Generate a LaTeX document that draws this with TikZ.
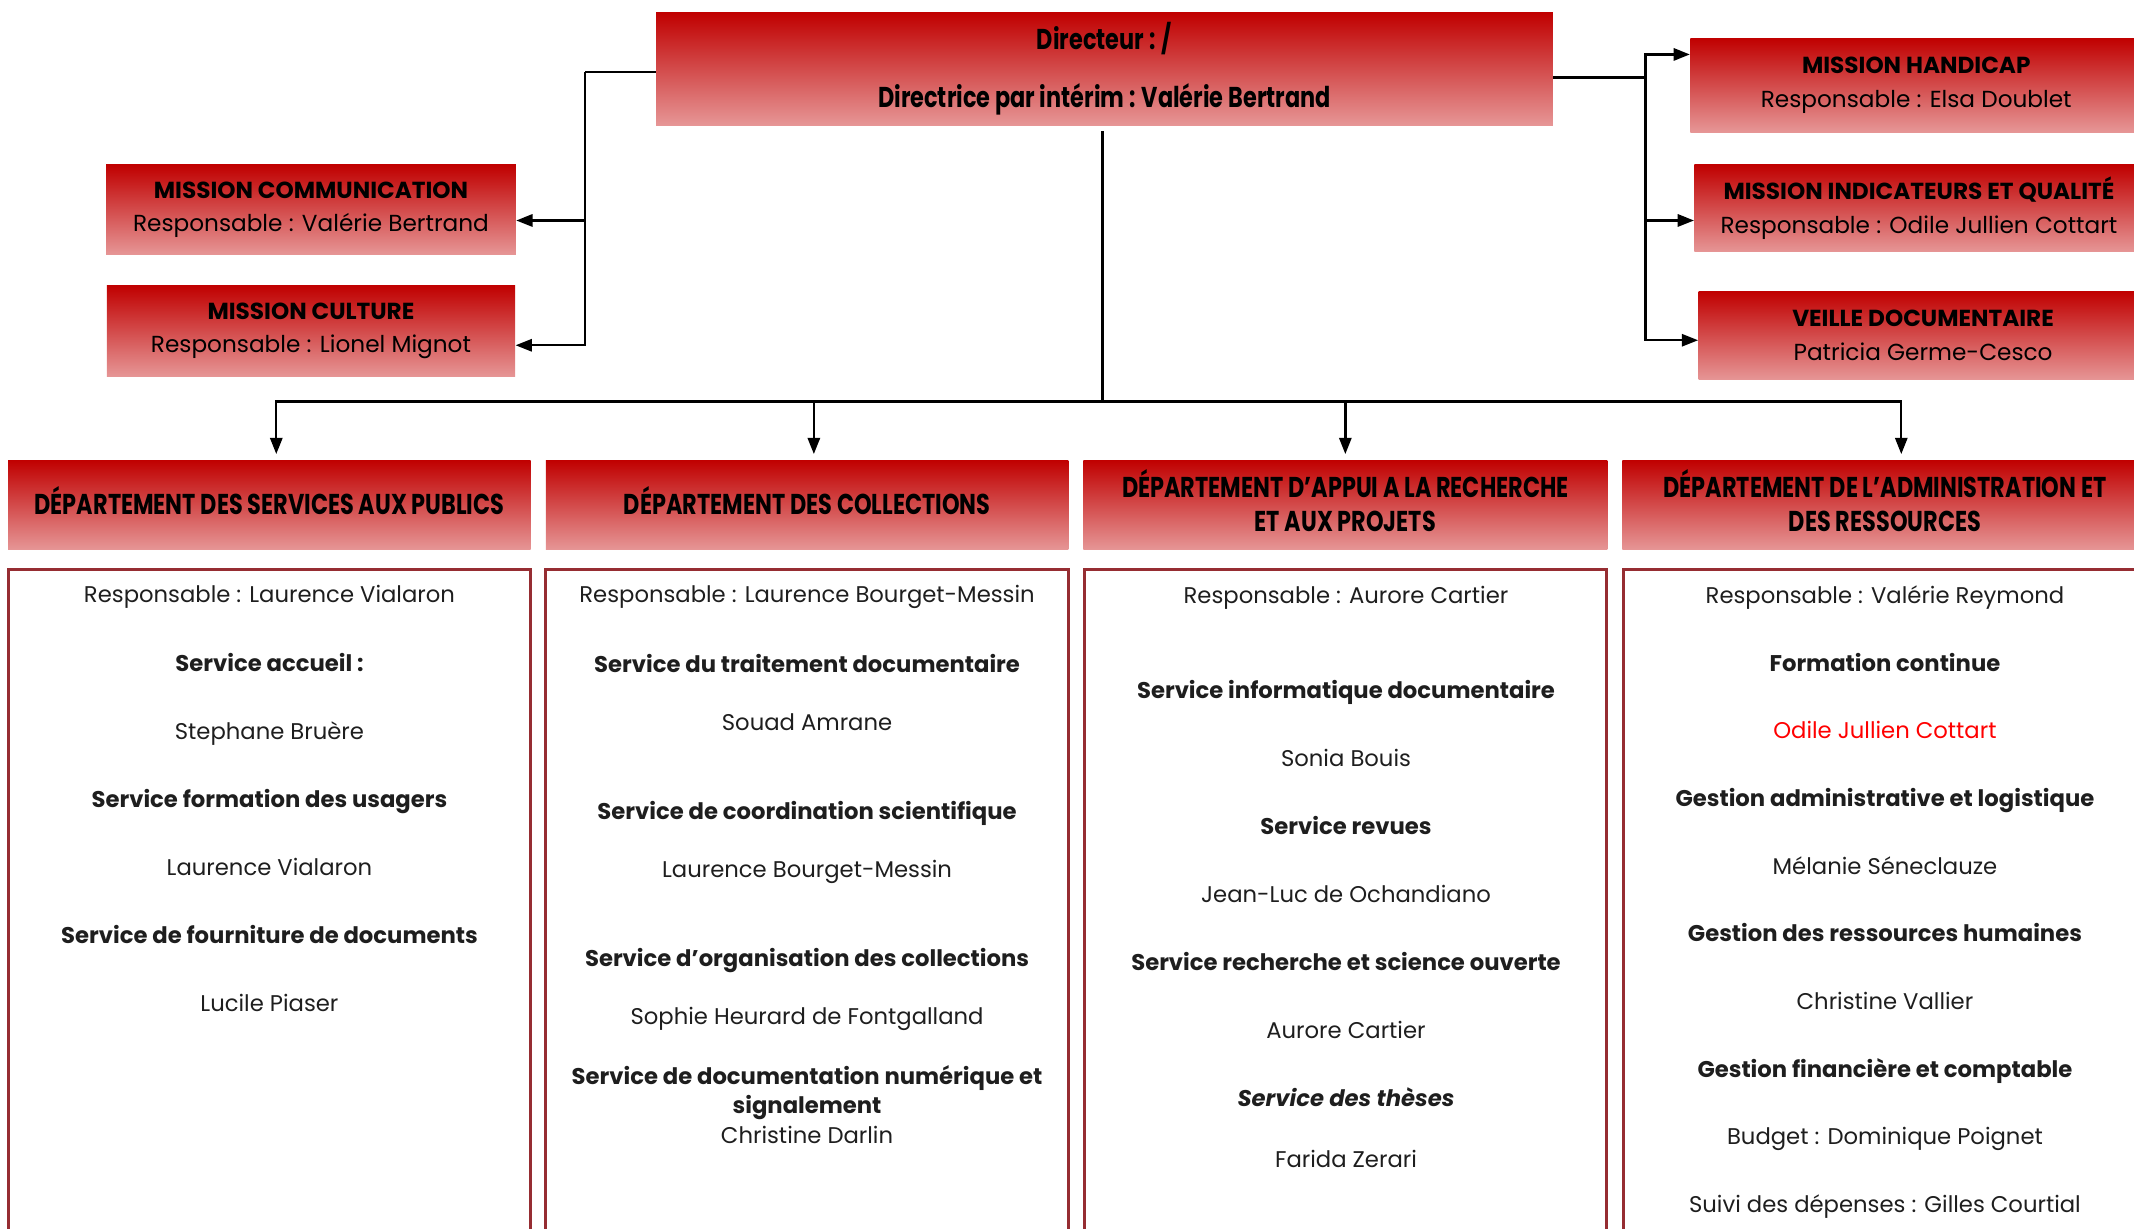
\documentclass[tikz,border=0pt]{standalone}
\usepackage{fontspec}
\setmainfont{Poppins}
\newfontfamily\condfont[FakeStretch=0.78]{Poppins}
\usetikzlibrary{positioning}
\usetikzlibrary{arrows.meta}

\definecolor{hdtop}{RGB}{192,0,0}
\definecolor{hdbot}{RGB}{230,150,150}
\definecolor{boxline}{RGB}{150,45,50}
\definecolor{txtgray}{RGB}{30,30,30}
\newcommand{\lowpad}{\rule[-0.12cm]{0pt}{0pt}}

\begin{document}
\begin{tikzpicture}[x=0.02cm,y=-0.02cm,
      head/.style={shade,top color=hdtop,bottom color=hdbot,inner sep=0pt,align=center},
      mission/.style={head,minimum width=6cm,minimum height=1.32cm,
        font=\fontsize{9.7}{14}\selectfont},
      dept/.style={head,minimum width=7.68cm,minimum height=1.32cm,
        font=\condfont\bfseries\fontsize{12}{14.2}\selectfont},
      staff/.style={draw=boxline,line width=1.2pt,minimum width=7.68cm,minimum height=10cm},
      list/.style={anchor=north,inner sep=0pt,align=center,text=txtgray},
      link/.style={line width=1pt},
      arr/.style={line width=1pt,-{Triangle[length=2.4mm,width=1.8mm]}},
      ]
      \useasboundingbox (0,0) rectangle (1568,903);
      \clip (0,0) rectangle (1568,903);

      \node[head,minimum width=13.18cm,minimum height=1.66cm,
        font=\condfont\bfseries\fontsize{12}{23.9}\selectfont] (dir) at (811.5,50.5)
        {Directeur : /\\Directrice par intérim : Valérie Bertrand};

      \node[mission,minimum width=6.02cm] (mcom) at (228.5,154)
        {\textbf{MISSION COMMUNICATION}\\Responsable : Valérie Bertrand};
      \node[mission,minimum height=1.34cm,below=0.44cm of mcom] (mcul)
        {\textbf{MISSION CULTURE}\\Responsable : Lionel Mignot};

      \node[mission,minimum width=6.64cm,minimum height=1.38cm] (mhand) at (1408,62.5)
        {\textbf{MISSION HANDICAP}\\Responsable : Elsa Doublet};
      \node[mission,minimum width=6.6cm,minimum height=1.28cm] (mqual) at (1410,153)
        {\textbf{MISSION INDICATEURS ET QUALITÉ}\\Responsable : Odile Jullien Cottart};
      \node[mission,minimum width=6.6cm,minimum height=1.3cm] (veille) at (1413,246.5)
        {\textbf{VEILLE DOCUMENTAIRE}\\Patricia Germe-Cesco};

      \node[dept] (dep1) at (198,371) {DÉPARTEMENT DES SERVICES AUX PUBLICS\lowpad};
      \node[dept] (dep2) at (593,371) {DÉPARTEMENT DES COLLECTIONS\lowpad};
      \node[dept,minimum width=7.7cm] (dep3) at (988.5,371)
        {DÉPARTEMENT D’APPUI A LA RECHERCHE\\ET AUX PROJETS\lowpad};
      \node[dept,minimum width=7.72cm] (dep4) at (1385,371)
        {DÉPARTEMENT DE L’ADMINISTRATION ET\\DES RESSOURCES\lowpad};

      \node[staff,below=0.26cm of dep1] (box1) {};
      \node[staff,below=0.26cm of dep2] (box2) {};
      \node[staff,below=0.26cm of dep3] (box3) {};
      \node[staff,below=0.26cm of dep4] (box4) {};

      \node[list,font=\fontsize{9.5}{28.45}\selectfont] (txt1) at (198,430)
        {Responsable : Laurence Vialaron\\
         \textbf{Service accueil :}\\
         Stephane Bruère\\
         \textbf{Service formation des usagers}\\
         Laurence Vialaron\\
         \textbf{Service de fourniture de documents}\\
         Lucile Piaser};
      \node[list,font=\fontsize{9.5}{12.23}\selectfont] (txt2) at (593,430)
        {Responsable : Laurence Bourget-Messin\\[0.59cm]
         \textbf{Service du traitement documentaire}\\[0.43cm]
         Souad Amrane\\[0.87cm]
         \textbf{Service de coordination scientifique}\\[0.43cm]
         Laurence Bourget-Messin\\[0.87cm]
         \textbf{Service d’organisation des collections}\\[0.43cm]
         Sophie Heurard de Fontgalland\\[0.45cm]
         \textbf{Service de documentation numérique et}\\
         \textbf{signalement}\\
         Christine Darlin};
      \node[list,font=\fontsize{9.5}{28.45}\selectfont] (txt3) at (989,430)
        {Responsable : Aurore Cartier\\[0.4cm]
         \textbf{Service informatique documentaire}\\
         Sonia Bouis\\
         \textbf{Service revues}\\
         Jean-Luc de Ochandiano\\
         \textbf{Service recherche et science ouverte}\\
         Aurore Cartier\\
         \textbf{\textit{Service des thèses}}\\[-0.1cm]
         Farida Zerari};
      \node[list,font=\fontsize{9.5}{28.3}\selectfont] (txt4) at (1385,430)
        {Responsable : Valérie Reymond\\
         \textbf{Formation continue}\\
         \textcolor{red}{Odile Jullien Cottart}\\
         \textbf{Gestion administrative et logistique}\\
         Mélanie Séneclauze\\
         \textbf{Gestion des ressources humaines}\\
         Christine Vallier\\
         \textbf{Gestion financière et comptable}\\
         Budget : Dominique Poignet\\
         Suivi des dépenses : Gilles Courtial};

      \coordinate (lj) at (430,53);
      \coordinate (rj) at (1209,57);
      \coordinate (bj) at (810,295);

      \draw[link] (dir.west |- lj) -- (lj);
      \draw[arr] (lj) |- ([yshift=-0.16cm]mcom.east);
      \draw[arr] (lj) |- ([yshift=-0.21cm]mcul.east);

      \draw[link] (dir.east |- rj) -- (rj);
      \draw[arr] (rj) |- ([yshift=0.45cm]mhand.west);
      \draw[arr] (rj) |- ([yshift=-0.18cm]mqual.west);
      \draw[arr] (rj) |- ([yshift=-0.07cm]veille.west);

      \draw[link] ([yshift=-0.08cm]dir.south -| bj) -- (bj);
      \draw[arr,shorten >=0.08cm] (bj) -| ([xshift=0.1cm]dep1.north);
      \draw[arr,shorten >=0.08cm] (bj) -| ([xshift=0.1cm]dep2.north);
      \draw[arr,shorten >=0.08cm] (bj) -| (dep3.north);
      \draw[arr,shorten >=0.08cm] (bj) -| ([xshift=0.24cm]dep4.north);
    \end{tikzpicture}
\end{document}
